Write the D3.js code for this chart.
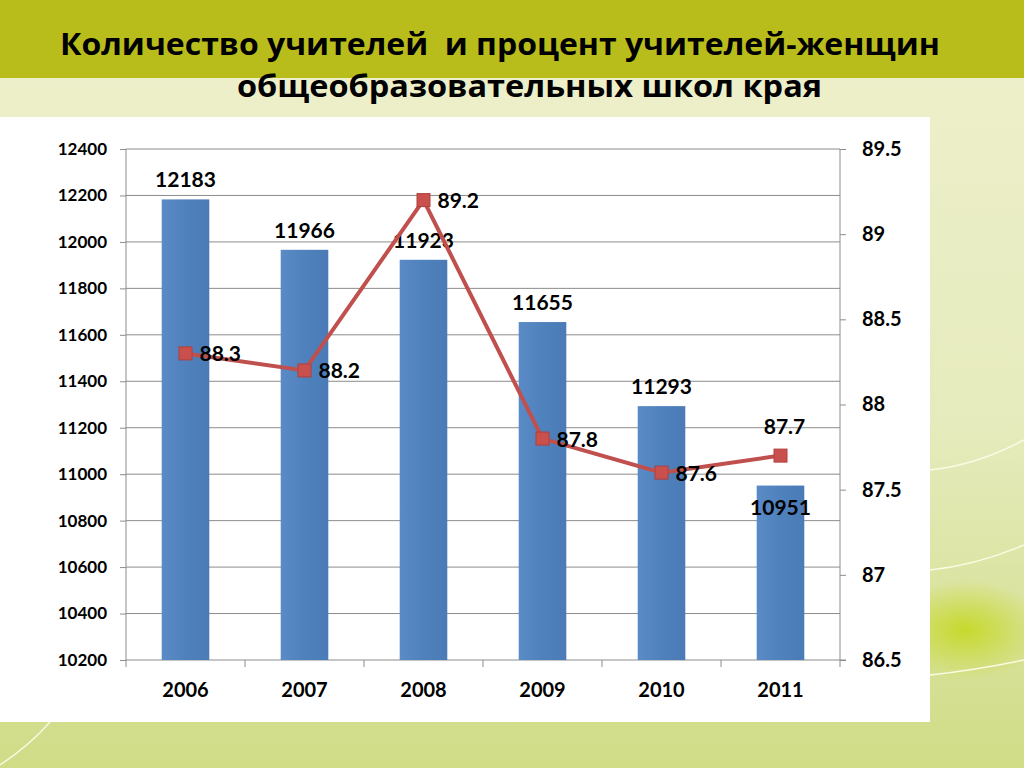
<!DOCTYPE html>
<html>
<head>
<meta charset="utf-8">
<script src="https://cdn.jsdelivr.net/npm/d3@7/dist/d3.min.js"></script>
<style>
  body { margin: 0; background: #fff; }
  svg { display: block; }
  text { font-family: Lato, "Open Sans", sans-serif; font-weight: bold; fill: #000; }
  .title { font-family: "Open Sans", "Noto Sans", sans-serif; white-space: pre; }
</style>
</head>
<body>
<div id="chart"></div>
<script>
// chart data
var years = ["2006", "2007", "2008", "2009", "2010", "2011"];
var teachers = [12183, 11966, 11923, 11655, 11293, 10951];
var womenPct = [88.3, 88.2, 89.2, 87.8, 87.6, 87.7];
var leftTicks = [10200, 10400, 10600, 10800, 11000, 11200, 11400, 11600, 11800, 12000, 12200, 12400];
var rightTicks = [86.5, 87, 87.5, 88, 88.5, 89, 89.5];
var titleLines = ["Количество учителей  и процент учителей-женщин", "общеобразовательных школ края"];

var W = 1024, H = 768;
var margin = {top: 149, right: 184, bottom: 108, left: 126};
var width = W - margin.left - margin.right,
    height = H - margin.top - margin.bottom;

var svg = d3.select("#chart").append("svg")
    .attr("width", W)
    .attr("height", H);

// background of the slide
var defs = svg.append("defs");
var bg = defs.append("linearGradient").attr("id", "bg")
    .attr("x1", 0).attr("y1", 0).attr("x2", 0).attr("y2", 1);
bg.append("stop").attr("offset", "0%").attr("stop-color", "#eef0cc");
bg.append("stop").attr("offset", "55%").attr("stop-color", "#e6ebbd");
bg.append("stop").attr("offset", "100%").attr("stop-color", "#d0dc86");

var blob = defs.append("radialGradient").attr("id", "blob");
blob.append("stop").attr("offset", "0%").attr("stop-color", "#c4d820").attr("stop-opacity", 0.9);
blob.append("stop").attr("offset", "100%").attr("stop-color", "#c4d820").attr("stop-opacity", 0);

var barGrad = defs.append("linearGradient").attr("id", "bar")
    .attr("x1", 0).attr("y1", 0).attr("x2", 1).attr("y2", 0);
barGrad.append("stop").attr("offset", "0%").attr("stop-color", "#5a8bc6");
barGrad.append("stop").attr("offset", "50%").attr("stop-color", "#4f81bd");
barGrad.append("stop").attr("offset", "100%").attr("stop-color", "#4a7bb7");

svg.append("rect").attr("width", W).attr("height", H).attr("fill", "url(#bg)");
svg.append("ellipse").attr("cx", 965).attr("cy", 630).attr("rx", 80).attr("ry", 50)
    .attr("fill", "url(#blob)");
svg.append("rect").attr("width", W).attr("height", 78).attr("fill", "#b9bd1b");

// decorative curves
[[930, 470, 1024, 440], [930, 570, 1024, 545], [930, 675, 1024, 660]].forEach(function(c) {
    svg.append("path")
        .attr("d", "M" + c[0] + "," + c[1] + " Q" + ((c[0] + c[2]) / 2) + "," + (c[1] - 5) + " " + c[2] + "," + c[3])
        .attr("fill", "none").attr("stroke", "#fbfbe4").attr("stroke-width", 1.5);
});
svg.append("path").attr("d", "M0,765 Q30,745 50,722")
    .attr("fill", "none").attr("stroke", "#f6f8e0").attr("stroke-width", 1.5);

// white chart panel
svg.append("rect").attr("x", 0).attr("y", 117).attr("width", 930).attr("height", 605)
    .attr("fill", "#fff");

// title
svg.selectAll(".title")
    .data(titleLines)
    .enter()
    .append("text")
    .attr("class", "title")
    .attr("xml:space", "preserve")
    .attr("x", function(d, i) { return i == 0 ? 60 : 237; })
    .attr("y", function(d, i) { return i == 0 ? 55 : 97; })
    .attr("font-size", 31)
    .attr("textLength", function(d, i) { return i == 0 ? 880 : 585; })
    .attr("lengthAdjust", "spacingAndGlyphs")
    .text(function(d) { return d; });

var g = svg.append("g")
    .attr("transform", "translate(" + margin.left + "," + margin.top + ")");

var x = d3.scaleBand()
    .domain(years)
    .range([0, width])
    .paddingInner(0.6)
    .paddingOuter(0.3);

var y = d3.scaleLinear()
    .domain([10200, 12400])
    .range([height, 0]);

var y2 = d3.scaleLinear()
    .domain([86.5, 89.5])
    .range([height, 0]);

// gridlines
g.selectAll(".grid")
    .data(leftTicks.slice(1))
    .enter()
    .append("line")
    .attr("class", "grid")
    .attr("x1", 0).attr("x2", width)
    .attr("y1", function(d) { return y(d); })
    .attr("y2", function(d) { return y(d); })
    .attr("stroke", "#8c8c8c").attr("stroke-width", 1);

// left axis
var yAxis = g.append("g")
    .call(d3.axisLeft(y).tickValues(leftTicks).tickSize(6).tickPadding(13)
        .tickFormat(d3.format("d")));
yAxis.selectAll("text").attr("font-size", 17);

// right axis
var y2Axis = g.append("g")
    .attr("transform", "translate(" + width + ",0)")
    .call(d3.axisRight(y2).tickValues(rightTicks).tickSize(6).tickPadding(16)
        .tickFormat(function(d) { return d; }));
y2Axis.selectAll("text").attr("font-size", 20);

[yAxis, y2Axis].forEach(function(a) {
    a.select(".domain").remove();
    a.selectAll("line").attr("stroke", "#8c8c8c");
    a.selectAll("text").attr("font-family", "Lato, 'Open Sans', sans-serif").attr("font-weight", "bold").attr("fill", "#000");
});

// bottom axis with ticks between categories
var step = x.step();
g.append("line").attr("x1", 0).attr("x2", width + 6)
    .attr("y1", height).attr("y2", height).attr("stroke", "#8c8c8c");
g.selectAll(".xtick")
    .data(d3.range(years.length + 1))
    .enter()
    .append("line")
    .attr("x1", function(i) { return i * step; })
    .attr("x2", function(i) { return i * step; })
    .attr("y1", function(i) { return (i == 0 || i == years.length) ? 0 : height; })
    .attr("y2", height + 7)
    .attr("stroke", "#8c8c8c");

g.selectAll(".xlabel")
    .data(years)
    .enter()
    .append("text")
    .attr("x", function(d) { return x(d) + x.bandwidth() / 2; })
    .attr("y", height + 37)
    .attr("text-anchor", "middle")
    .attr("font-size", 20)
    .text(function(d) { return d; });

// bars
g.selectAll(".bar")
    .data(teachers)
    .enter()
    .append("rect")
    .attr("class", "bar")
    .attr("x", function(d, i) { return x(years[i]); })
    .attr("y", function(d) { return y(d); })
    .attr("width", x.bandwidth())
    .attr("height", function(d) { return height - y(d); })
    .attr("fill", "url(#bar)");

// bar labels (last one sits inside the bar)
g.selectAll(".barlabel")
    .data(teachers)
    .enter()
    .append("text")
    .attr("x", function(d, i) { return x(years[i]) + x.bandwidth() / 2; })
    .attr("y", function(d, i) { return i == teachers.length - 1 ? y(d) + 29 : y(d) - 12; })
    .attr("text-anchor", "middle")
    .attr("font-size", 21)
    .text(function(d) { return d; });

// line of women %
var line = d3.line()
    .x(function(d, i) { return x(years[i]) + x.bandwidth() / 2; })
    .y(function(d) { return y2(d); });

g.append("path")
    .datum(womenPct)
    .attr("d", line)
    .attr("fill", "none")
    .attr("stroke", "#c0504d")
    .attr("stroke-width", 4);

g.selectAll(".marker")
    .data(womenPct)
    .enter()
    .append("rect")
    .attr("x", function(d, i) { return x(years[i]) + x.bandwidth() / 2 - 6.5; })
    .attr("y", function(d) { return y2(d) - 6.5; })
    .attr("width", 13).attr("height", 13)
    .attr("fill", "#c9504c")
    .attr("stroke", "#b0403d").attr("stroke-width", 1);

g.selectAll(".pctlabel")
    .data(womenPct)
    .enter()
    .append("text")
    .attr("x", function(d, i) {
        var cx = x(years[i]) + x.bandwidth() / 2;
        return i == womenPct.length - 1 ? cx + 4 : cx + 14;
    })
    .attr("y", function(d, i) { return i == womenPct.length - 1 ? y2(d) - 22 : y2(d) + 8; })
    .attr("text-anchor", function(d, i) { return i == womenPct.length - 1 ? "middle" : "start"; })
    .attr("font-size", 21)
    .text(function(d) { return d.toFixed(1); });
</script>
</body>
</html>
